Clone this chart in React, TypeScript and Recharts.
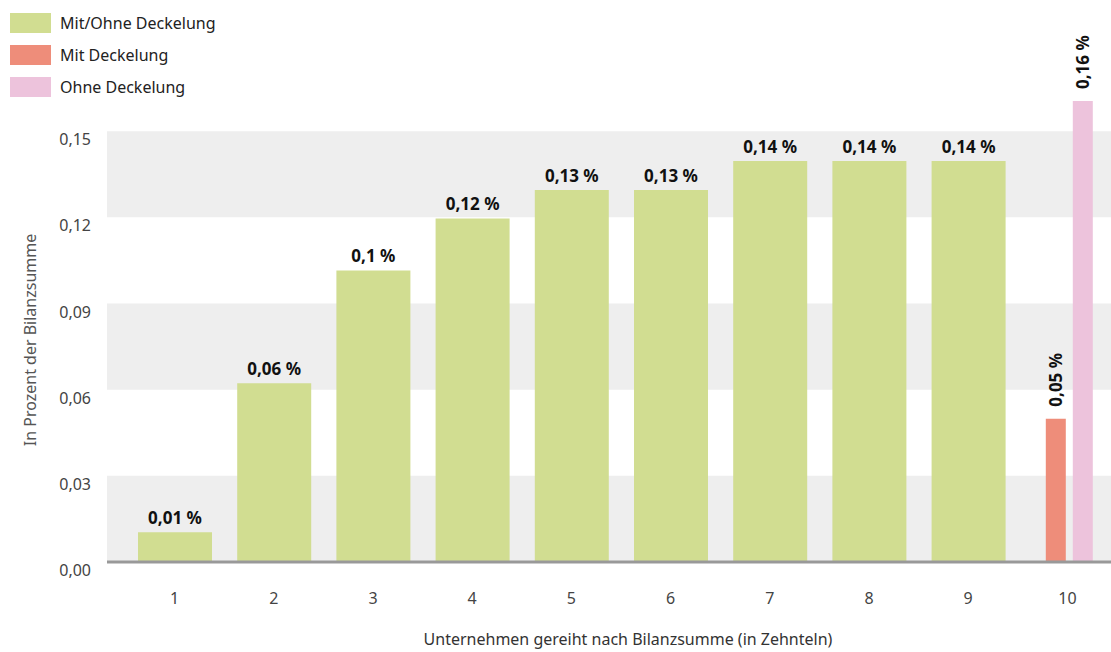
import { BarChart, Bar, XAxis, YAxis, ReferenceArea, LabelList, Label } from "recharts";

const categories = ["1", "2", "3", "4", "5", "6", "7", "8", "9", "10"];
const bothValues = [0.0104, 0.0622, 0.1015, 0.1196, 0.1295, 0.1295, 0.1396, 0.1396, 0.1396, null];
const withCapValues = [null, null, null, null, null, null, null, null, null, 0.0499];
const withoutCapValues = [null, null, null, null, null, null, null, null, null, 0.1605];
const yTicks = [0, 0.03, 0.06, 0.09, 0.12, 0.15];
const bands = [
  [0, 0.03],
  [0.06, 0.09],
  [0.12, 0.15],
];

const series = [
  { key: "both", name: "Mit/Ohne Deckelung", color: "#d1dd91" },
  { key: "withCap", name: "Mit Deckelung", color: "#ee8d7a" },
  { key: "withoutCap", name: "Ohne Deckelung", color: "#edc3dc" },
];

const data = categories.map((cat, i) => ({
  cat,
  both: bothValues[i],
  withCap: withCapValues[i],
  withoutCap: withoutCapValues[i],
}));

const FONT = "'Noto Sans', Lato, sans-serif";

const fmt = (v: number) => String(parseFloat(v.toFixed(2))).replace(".", ",") + " %";

function TopLabel(props: any) {
  const { x, y, width, value } = props;
  if (value == null) return null;
  return (
    <text x={x + width / 2} y={y - 8} textAnchor="middle" fontSize={17} fontWeight={700} fill="#111" fontFamily={FONT}>
      {fmt(value)}
    </text>
  );
}

function SideLabel(props: any) {
  const { x, y, width, value } = props;
  if (value == null) return null;
  const cx = x + width / 2;
  const ty = y - 12;
  return (
    <text
      x={cx}
      y={ty}
      transform={`rotate(-90, ${cx}, ${ty})`}
      textAnchor="start"
      dominantBaseline="central"
      fontSize={17}
      fontWeight={700}
      fill="#111"
      fontFamily={FONT}
    >
      {fmt(value)}
    </text>
  );
}

function YTick({ x, y, payload }: any) {
  return (
    <text x={x} y={y + 8} textAnchor="end" dominantBaseline="central" fontSize={16} fill="#444" fontFamily={FONT}>
      {payload.value.toFixed(2).replace(".", ",")}
    </text>
  );
}

function XTick({ x, y, payload }: any) {
  return (
    <text x={x} y={y + 28} textAnchor="middle" dominantBaseline="central" fontSize={16} fill="#444" fontFamily={FONT}>
      {payload.value}
    </text>
  );
}

export default function App() {
  return (
    <div
      style={{
        position: "fixed",
        left: 0,
        top: 0,
        width: 1111,
        height: 652,
        overflow: "hidden",
        background: "#fff",
        fontFamily: FONT,
      }}
    >
      <BarChart
        width={1120}
        height={652}
        data={data}
        margin={{ top: 45, right: 3, bottom: 0, left: 0 }}
        barGap={7}
      >
        {bands.map(([a, b]) => (
          <ReferenceArea key={a} xAxisId="band" y1={a} y2={b} fill="#eeeeee" fillOpacity={1} stroke="none" />
        ))}
        <XAxis
          dataKey="cat"
          height={90}
          padding={{ left: 18, right: 0 }}
          axisLine={{ stroke: "#999", strokeWidth: 3 }}
          tickLine={false}
          tick={<XTick />}
          interval={0}
        >
          <Label
            content={({ viewBox }: any) => (
              <text
                x={viewBox.x + viewBox.width / 2 + 16}
                y={639}
                textAnchor="middle"
                dominantBaseline="central"
                fontSize={16}
                fill="#333"
                fontFamily={FONT}
              >
                Unternehmen gereiht nach Bilanzsumme (in Zehnteln)
              </text>
            )}
          />
        </XAxis>
        <XAxis xAxisId="b" dataKey="cat" hide padding={{ left: 58, right: 0 }} />
        <XAxis xAxisId="band" dataKey="cat" hide />
        <YAxis
          width={107}
          domain={[0, 0.18]}
          ticks={yTicks}
          axisLine={false}
          tickLine={false}
          tickMargin={10}
          tick={<YTick />}
        >
          <Label
            content={() => (
              <text
                x={30}
                y={340}
                transform="rotate(-90, 30, 340)"
                textAnchor="middle"
                dominantBaseline="central"
                fontSize={16}
                fill="#555"
                fontFamily={FONT}
              >
                In Prozent der Bilanzsumme
              </text>
            )}
          />
        </YAxis>
        <Bar dataKey="both" name={series[0].name} fill={series[0].color} barSize={74} isAnimationActive={false}>
          <LabelList dataKey="both" content={<TopLabel />} />
        </Bar>
        <Bar xAxisId="b" dataKey="withCap" name={series[1].name} fill={series[1].color} barSize={20} isAnimationActive={false}>
          <LabelList dataKey="withCap" content={<SideLabel />} />
        </Bar>
        <Bar xAxisId="b" dataKey="withoutCap" name={series[2].name} fill={series[2].color} barSize={20} isAnimationActive={false}>
          <LabelList dataKey="withoutCap" content={<SideLabel />} />
        </Bar>
      </BarChart>
      <div style={{ position: "absolute", left: 10, top: 7 }}>
        {series.map((s) => (
          <div key={s.key} style={{ display: "flex", alignItems: "center", height: 32 }}>
            <div style={{ width: 41, height: 20, background: s.color, marginRight: 9 }} />
            <span style={{ fontSize: 16, color: "#222" }}>{s.name}</span>
          </div>
        ))}
      </div>
    </div>
  );
}
